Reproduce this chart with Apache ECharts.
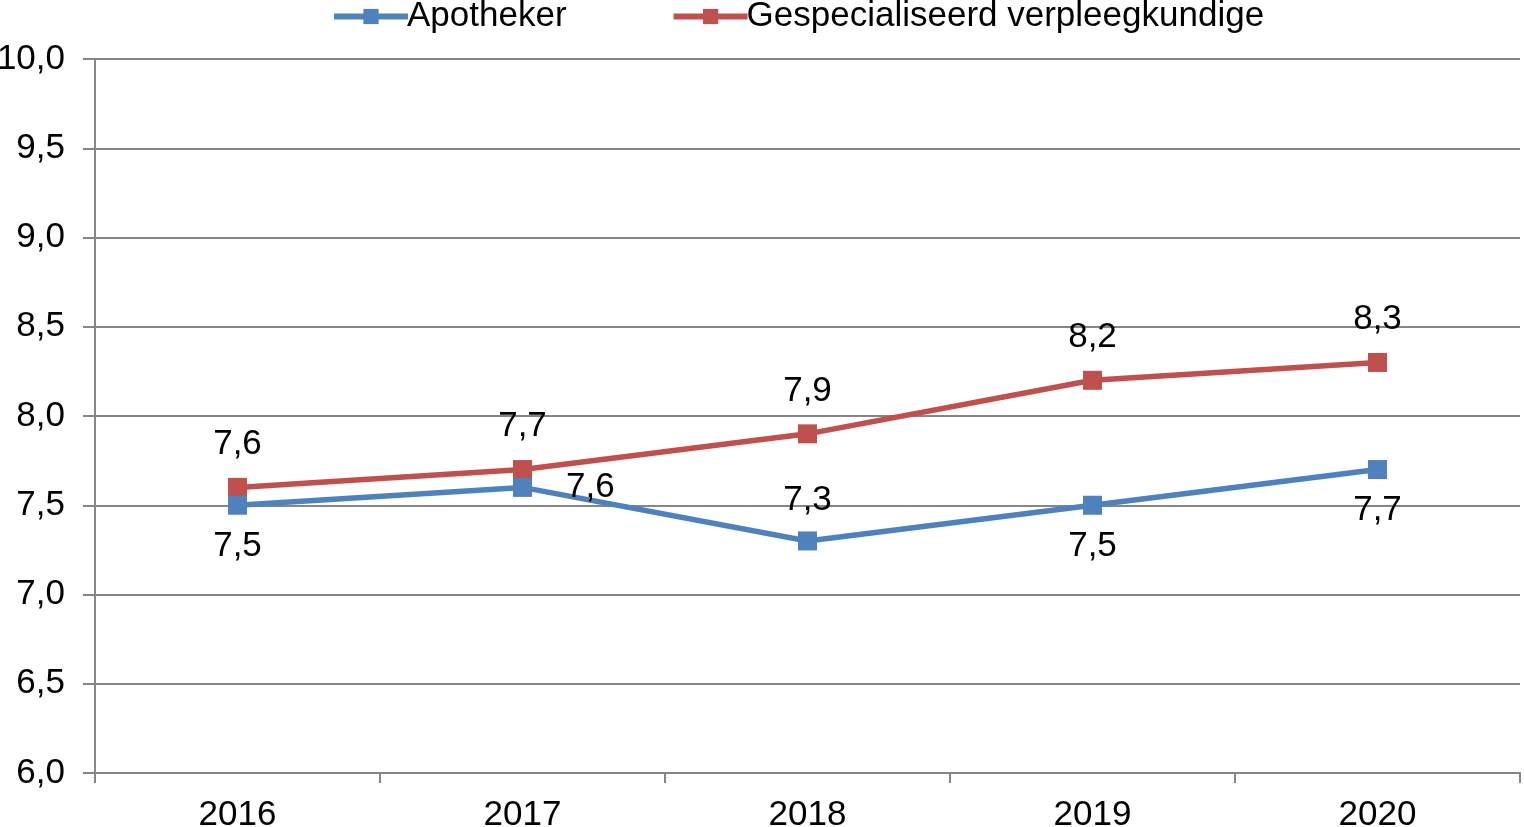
<!DOCTYPE html>
<html><head><meta charset="utf-8">
<script src="https://cdn.jsdelivr.net/npm/echarts@6/dist/echarts.min.js"></script>
<style>html,body{margin:0;padding:0;background:#fff}#c{width:1524px;height:827px}</style>
</head><body><div id="c"></div>
<script>
const categories = ['2016','2017','2018','2019','2020'];
const apotheker = [7.5, 7.6, 7.3, 7.5, 7.7];
const verpleeg = [7.6, 7.7, 7.9, 8.2, 8.3];
const apoLabelPos = ['bottom','right','top','bottom','bottom'];
const fmt = v => v.toFixed(1).replace('.', ',');
const FONT = '"Liberation Sans", Arial, sans-serif';
const FS = 35;
const chart = echarts.init(document.getElementById('c'));
chart.setOption({
  animation:false,
  textStyle:{fontFamily:FONT},
  legend:{top:-6,left:326,itemWidth:74,itemHeight:19,itemGap:104,
    textStyle:{fontSize:FS,color:'#000',fontFamily:FONT,padding:[0,0,0,-6]},
    data:[{name:'Apotheker',itemStyle:{color:'#4F81BD'},lineStyle:{width:6,color:'#4F81BD'}},
          {name:'Gespecialiseerd verpleegkundige',itemStyle:{color:'#C0504D'},lineStyle:{width:6,color:'#C0504D'}}]},
  grid:{left:95,right:4,top:59,bottom:54,containLabel:false,outerBoundsMode:'none'},
  xAxis:{type:'category',data:categories,boundaryGap:true,
    axisLine:{lineStyle:{color:'#868686',width:2}},
    axisTick:{show:true,length:10,lineStyle:{color:'#868686',width:2}},
    axisLabel:{fontSize:FS,color:'#000',margin:25,fontFamily:FONT}},
  yAxis:{type:'value',min:6,max:10,interval:0.5,
    axisLine:{show:true,lineStyle:{color:'#868686',width:2}},
    axisTick:{show:true,length:12,lineStyle:{color:'#868686',width:2}},
    splitLine:{lineStyle:{color:'#868686',width:2}},
    axisLabel:{fontSize:FS,color:'#000',margin:30,fontFamily:FONT,formatter:v=>fmt(v)}},
  series:[
    {name:'Gespecialiseerd verpleegkundige',type:'line',data:verpleeg,z:2,
      color:'#C0504D',symbol:'rect',symbolSize:19,
      lineStyle:{width:5.5,color:'#C0504D'},itemStyle:{color:'#C0504D'},
      label:{show:true,position:'top',distance:16,fontSize:FS,color:'#000',fontFamily:FONT,formatter:p=>fmt(p.value)}},
    {name:'Apotheker',type:'line',z:3,
      data:apotheker.map((v,i)=>({value:v,label:{position:apoLabelPos[i],distance:apoLabelPos[i]==='right'?34:14}})),
      color:'#4F81BD',symbol:'rect',symbolSize:19,
      lineStyle:{width:5.5,color:'#4F81BD'},itemStyle:{color:'#4F81BD'},
      label:{show:true,fontSize:FS,color:'#000',fontFamily:FONT,formatter:p=>fmt(p.value)}}
  ]
});
</script></body></html>
